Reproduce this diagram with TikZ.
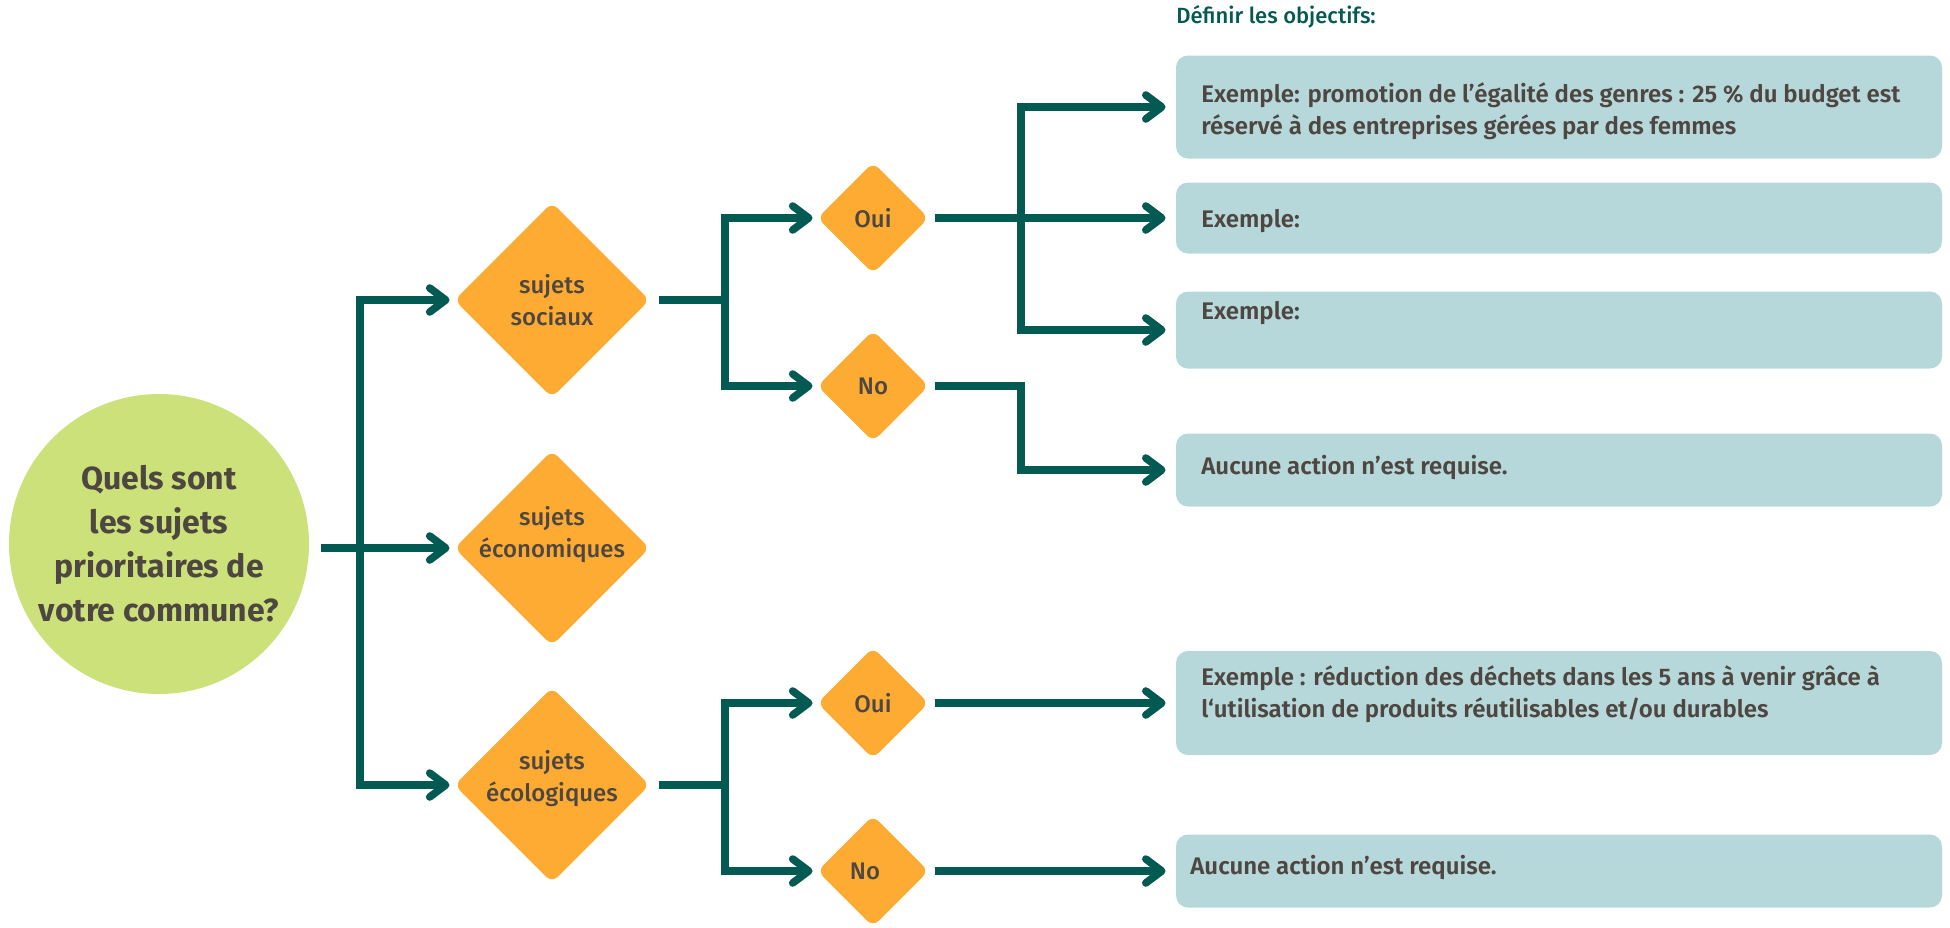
\documentclass[tikz,border=0pt]{standalone}
\usepackage{fontspec}
\setmainfont{Fira Sans}[BoldFont={Fira Sans SemiBold}]
\newfontfamily\questfont{Fira Sans Bold}
\newfontfamily\midfont{Fira Sans Medium}
\usetikzlibrary{arrows.meta, shapes.geometric, positioning}
\definecolor{flowteal}{RGB}{3, 90, 82}
\definecolor{choiceorange}{RGB}{253, 171, 51}
\definecolor{questgreen}{RGB}{205, 225, 122}
\definecolor{goalblue}{RGB}{183, 216, 218}
\definecolor{inkgray}{RGB}{77, 70, 65}

\begin{document}
\begin{tikzpicture}[x=0.5pt, y=-0.5pt,
    conn/.style={line width=3.8pt, color=flowteal},
    arr/.style={conn, -{Straight Barb[length=8pt, width=12pt, round]}},
    choicetext/.style={align=center, inner sep=0pt, text=inkgray, font=\midfont\fontsize{12}{16}\selectfont},
    bigchoice/.style={diamond, fill=choiceorange, rounded corners=4pt, minimum width=97.5pt, minimum height=97.5pt,
        inner sep=0pt, outer sep=0pt, choicetext},
    smallchoice/.style={bigchoice, minimum width=55.5pt, minimum height=55.5pt},
    goal/.style={rectangle, fill=goalblue, rounded corners=6pt, minimum width=383pt, inner sep=0pt},
    goaltext/.style={anchor=west, align=left, inner sep=0pt, text=inkgray, font=\bfseries\fontsize{12}{16}\selectfont}]
\useasboundingbox (0,0) rectangle (1950,927);

% question de départ
\node[circle, fill=questgreen, minimum size=150pt, inner sep=0pt, align=center, text=inkgray,
    font=\questfont\fontsize{16}{22}\selectfont] (quest) at (159,544)
    {Quels sont\\les sujets\\prioritaires de\\votre commune?};

% sujets
\node[bigchoice] (soc) at (552,300) {sujets\\sociaux};
\node[bigchoice, label={[choicetext, yshift=6.5pt]center:sujets\\économiques}] (eco) at (552,548) {};
\node[bigchoice, label={[choicetext, yshift=3pt]center:sujets\\écologiques}] (ecol) at (552,785) {};

% oui / no
\node[smallchoice] (oui1) at (873,218) {Oui};
\node[smallchoice] (no1) at (873,386) {No};
\node[smallchoice] (oui2) at (873,703) {Oui};
\node[smallchoice, label={[choicetext, xshift=-4pt]center:No}] (no2) at (873,871) {};

% objectifs
\node[anchor=west, inner sep=0pt, text=flowteal, font=\midfont\fontsize{11}{13}\selectfont] (title) at (1176,17) {Définir les objectifs:};
\foreach \n/\y/\h in {1/107/51.5, 2/218/35.5, 3/330/38.5, 4/470/36.5, 5/703/52, 6/871/36.5} {
    \node[goal, minimum height=\h pt] (g\n) at (1559,\y) {};
}
\node[goaltext] (t1) at (1201,111) {Exemple: promotion de l’égalité des genres : 25 \% du budget est\\réservé à des entreprises gérées par des femmes};
\node[goaltext] (t2) at (1201,221) {Exemple:};
\node[goaltext] (t3) at (1201,313) {Exemple:};
\node[goaltext] (t4) at (1201,467) {Aucune action n’est requise.};
\node[goaltext] (t5) at (1201,694) {Exemple : réduction des déchets dans les 5 ans à venir grâce à\\l‘utilisation de produits réutilisables et/ou durables};
\node[goaltext] (t6) at (1190,867) {Aucune action n’est requise.};

% embranchements
\coordinate (f1) at (360,548);
\coordinate (f2) at (725,300);
\coordinate (f3) at (1021,218);
\coordinate (f4) at (725,785);

\draw[conn, shorten <=6pt] (quest.east |- f1) -- (f1);
\foreach \d in {soc, eco, ecol} {
    \draw[arr, shorten >=2.5pt] (f1) |- (\d.west);
}
\draw[conn, shorten <=4.5pt] (soc.east) -- (f2);
\draw[conn, shorten <=4.5pt] (ecol.east) -- (f4);
\foreach \f/\a/\b in {f2/oui1/no1, f4/oui2/no2} {
    \draw[arr, shorten >=2.5pt] (\f) |- (\a.west);
    \draw[arr, shorten >=2.5pt] (\f) |- (\b.west);
}

\draw[arr, shorten <=3pt, shorten >=5pt] (oui1.east) -- (g2.west);
\draw[arr, shorten >=5pt] (f3) |- (g1.west);
\draw[arr, shorten >=5pt] (f3) |- (g3.west);
\draw[arr, shorten <=3pt, shorten >=5pt] (no1.east) -| (f3 |- g4.west) -- (g4.west);
\draw[arr, shorten <=3pt, shorten >=5pt] (oui2.east) -- (g5.west);
\draw[arr, shorten <=3pt, shorten >=5pt] (no2.east) -- (g6.west);
\end{tikzpicture}
\end{document}
